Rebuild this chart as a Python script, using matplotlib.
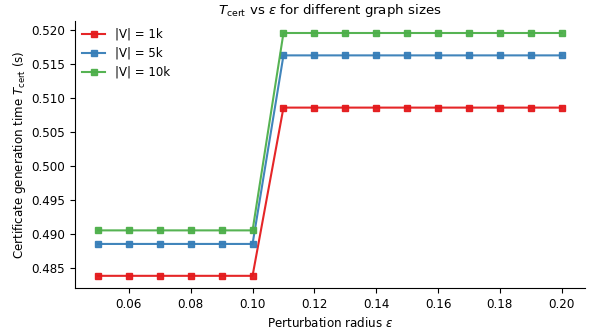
import numpy as np
import matplotlib
matplotlib.use("Agg")
import matplotlib.pyplot as plt

eps = [0.05, 0.06, 0.07, 0.08, 0.09, 0.10, 0.11, 0.12, 0.13, 0.14, 0.15, 0.16, 0.17, 0.18, 0.19, 0.20]
t_1k = [0.4838] * 6 + [0.5086] * 10
t_5k = [0.4885] * 6 + [0.5163] * 10
t_10k = [0.4905] * 6 + [0.5196] * 10

labels = ["|V| = 1k", "|V| = 5k", "|V| = 10k"]
colors = ["#e41a1c", "#377eb8", "#4daf4a"]

fig = plt.figure(figsize=(5.89, 3.31), dpi=100)
ax = fig.add_axes([0.127, 0.13, 0.866, 0.807])
for ys, lab, c in zip([t_1k, t_5k, t_10k], labels, colors):
    ax.plot(eps, ys, marker="s", markersize=4, lw=1.5, color=c, label=lab, alpha=0.95)

ax.set_title(r"$T_{\mathrm{cert}}$ vs $\varepsilon$ for different graph sizes", fontsize=9.6, pad=5)
ax.set_xlabel(r"Perturbation radius $\varepsilon$", fontsize=8.6)
ax.set_ylabel(r"Certificate generation time $T_{\mathrm{cert}}$ (s)", fontsize=8.6, labelpad=2)
ax.set_xticks([0.06, 0.08, 0.10, 0.12, 0.14, 0.16, 0.18, 0.20])
ax.set_yticks([0.485, 0.490, 0.495, 0.500, 0.505, 0.510, 0.515, 0.520])
ax.tick_params(labelsize=8.6)
ax.spines["top"].set_visible(False)
ax.spines["right"].set_visible(False)
ax.legend(loc="upper left", frameon=False, fontsize=8.5, borderaxespad=0.2)

fig.savefig("out.png")
